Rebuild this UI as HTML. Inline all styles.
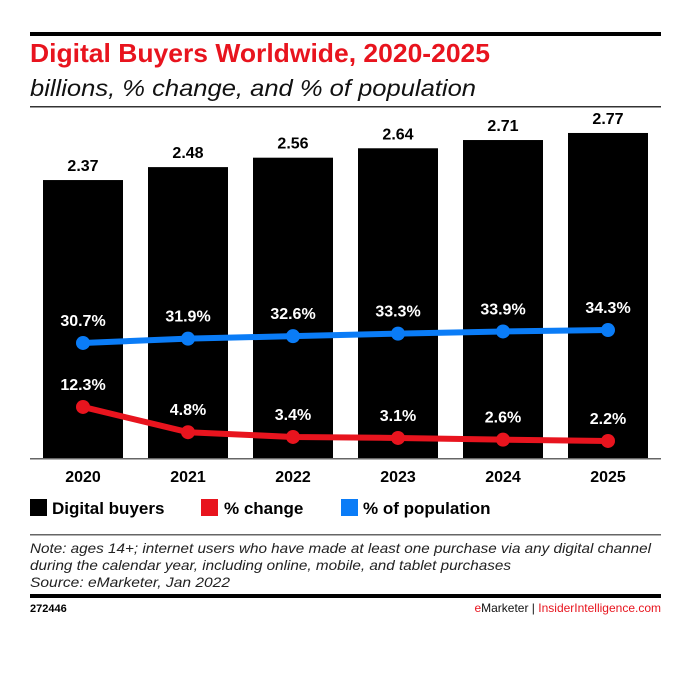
<!DOCTYPE html>
<html><head><meta charset="utf-8"><style>
body{margin:0;background:#fff;width:684px;height:672px;overflow:hidden;font-family:"Liberation Sans",sans-serif}
</style></head><body>
<svg width="684" height="672" xmlns="http://www.w3.org/2000/svg">
<rect x="30" y="32" width="631" height="4" fill="#000"/>
<text x="30" y="62" font-size="26" font-weight="bold" fill="#e8141e" textLength="460" lengthAdjust="spacingAndGlyphs">Digital Buyers Worldwide, 2020-2025</text>
<text x="30" y="96" font-size="23" font-style="italic" fill="#111" textLength="446" lengthAdjust="spacingAndGlyphs">billions, % change, and % of population</text>
<rect x="30" y="106" width="631" height="1.5" fill="#333"/>
<g id="bars"></g>
<g id="lines"></g>
<rect x="30" y="458" width="631" height="1.5" fill="#666"/>
<g id="xlabels" font-size="16" font-weight="bold" text-anchor="middle"></g>
<rect x="30" y="499" width="17" height="17" fill="#000"/>
<text x="52" y="514" font-size="17" font-weight="bold">Digital buyers</text>
<rect x="201" y="499" width="17" height="17" fill="#e8141e"/>
<text x="224" y="514" font-size="17" font-weight="bold">% change</text>
<rect x="341" y="499" width="17" height="17" fill="#0a7cf7"/>
<text x="363" y="514" font-size="17" font-weight="bold">% of population</text>
<rect x="30" y="534" width="631" height="1.5" fill="#666"/>
<g font-size="14" font-style="italic" fill="#222">
<text x="30" y="553" textLength="621" lengthAdjust="spacingAndGlyphs">Note: ages 14+; internet users who have made at least one purchase via any digital channel</text>
<text x="30" y="570" textLength="481" lengthAdjust="spacingAndGlyphs">during the calendar year, including online, mobile, and tablet purchases</text>
<text x="30" y="587" textLength="200" lengthAdjust="spacingAndGlyphs">Source: eMarketer, Jan 2022</text>
</g>
<rect x="30" y="594" width="631" height="4" fill="#000"/>
<text x="30" y="612" font-size="11" font-weight="bold">272446</text>
<text x="661" y="612" font-size="12" text-anchor="end"><tspan fill="#e8141e">e</tspan><tspan fill="#111">Marketer</tspan><tspan fill="#111"> | </tspan><tspan fill="#e8141e">InsiderIntelligence.com</tspan></text>
</svg>
<script>
const years=["2020","2021","2022","2023","2024","2025"];
const buyers=[2.37,2.48,2.56,2.64,2.71,2.77];
const buyerLabels=["2.37","2.48","2.56","2.64","2.71","2.77"];
const change=[12.3,4.8,3.4,3.1,2.6,2.2];
const changeLabels=["12.3%","4.8%","3.4%","3.1%","2.6%","2.2%"];
const population=[30.7,31.9,32.6,33.3,33.9,34.3];
const popLabels=["30.7%","31.9%","32.6%","33.3%","33.9%","34.3%"];
const NS="http://www.w3.org/2000/svg";
const xC=i=>83+i*105;
const yBar=v=>459-v*117.7;
const yPop=v=>453.5-v*3.6;
const yChg=v=>448.4-v*3.37;
function mk(t,a,p){const e=document.createElementNS(NS,t);for(const k in a)e.setAttribute(k,a[k]);p.appendChild(e);return e;}
const bars=document.getElementById('bars'),lines=document.getElementById('lines'),xl=document.getElementById('xlabels');
buyers.forEach((v,i)=>{
 const r=mk('rect',{x:xC(i)-40,y:yBar(v),width:80,height:459-yBar(v),fill:'#000'},bars);
 
 
 const t=mk('text',{x:xC(i),y:yBar(v)-9,'font-size':16,'font-weight':'bold','text-anchor':'middle'},bars);t.textContent=buyerLabels[i];
 
 
 const x=mk('text',{x:xC(i),y:482},xl);x.textContent=years[i];
 
 
});
function series(vals,labs,fy,col,nm){
 const p=mk('polyline',{points:vals.map((v,i)=>xC(i)+','+fy(v)).join(' '),fill:'none',stroke:col,'stroke-width':6,'stroke-linejoin':'round'},lines);
 
 
 vals.forEach((v,i)=>{
  const c=mk('circle',{cx:xC(i),cy:fy(v),r:7,fill:col},lines);
  
  
  const t=mk('text',{x:xC(i),y:fy(v)-17,'font-size':16,'font-weight':'bold','text-anchor':'middle',fill:'#fff'},lines);t.textContent=labs[i];
  
  
 });
}
series(population,popLabels,yPop,'#0a7cf7','population');
series(change,changeLabels,yChg,'#e8141e','change');
</script>
</body></html>
